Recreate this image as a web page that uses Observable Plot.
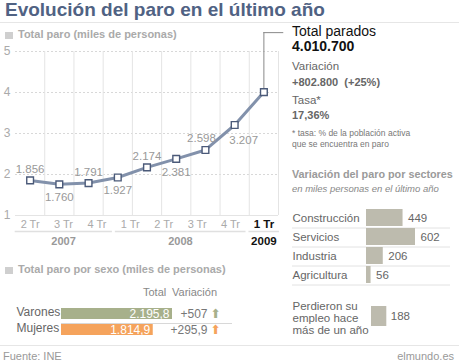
<!DOCTYPE html>
<html><head><meta charset="utf-8">
<script src="https://cdn.jsdelivr.net/npm/d3@7"></script>
<script src="https://cdn.jsdelivr.net/npm/@observablehq/plot@0.6"></script>
<style>
body{margin:0;background:#fff;font-family:"Liberation Sans",Arial,sans-serif;}
#root{position:relative;width:459px;height:364px;overflow:hidden;}
.a{position:absolute;white-space:nowrap;}
.ic{position:absolute;width:8px;height:7px;background:#cfcfcf;}
</style></head><body><div id="root">
<div class="a" style="left:5px;top:0;font-size:19px;line-height:19px;font-weight:bold;color:#506283;">Evolución del paro en el último año</div>
<div class="a" style="left:0;top:22px;width:459px;height:1px;background:#e6e6e6;"></div>
<div class="ic" style="left:5px;top:32px;"></div>
<div class="a" style="left:18px;top:28px;font-size:11px;font-weight:bold;color:#aaa;">Total paro (miles de personas)</div>
<div id="line" class="a" style="left:0;top:0;"></div>
<div class="a" style="left:292px;top:23px;font-size:14px;color:#111;">Total parados</div>
<div class="a" style="left:292px;top:38px;font-size:14px;font-weight:bold;color:#111;">4.010.700</div>
<div class="a" style="left:292px;top:60px;font-size:11.5px;color:#666;">Variación</div>
<div class="a" style="left:292px;top:76px;font-size:11px;font-weight:bold;color:#666;">+802.800&nbsp;&nbsp;(+25%)</div>
<div class="a" style="left:292px;top:94px;font-size:11.5px;color:#666;">Tasa*</div>
<div class="a" style="left:292px;top:109px;font-size:11px;font-weight:bold;color:#666;">17,36%</div>
<div class="a" style="left:292px;top:128px;font-size:8.5px;color:#777;line-height:11px;">* tasa: % de la población activa<br>que se encuentra en paro</div>
<div class="a" style="left:292px;top:168px;font-size:10.8px;font-weight:bold;color:#9a9a9a;">Variación del paro por sectores</div>
<div class="a" style="left:292px;top:183px;font-size:9.5px;font-style:italic;color:#888;">en miles personas en el último año</div>
<div id="sect" class="a" style="left:285px;top:195px;"></div>
<div id="lost" class="a" style="left:285px;top:298px;"></div>
<div class="ic" style="left:5px;top:267px;"></div>
<div class="a" style="left:18px;top:263px;font-size:11px;font-weight:bold;color:#aaa;">Total paro por sexo (miles de personas)</div>
<div class="a" style="left:143px;top:286px;font-size:11px;color:#888;">Total</div>
<div class="a" style="left:172px;top:286px;font-size:11px;color:#888;">Variación</div>
<div id="sex" class="a" style="left:0;top:285px;"></div>
<div class="a" style="left:0;top:345px;width:459px;height:1px;background:#e6e6e6;"></div>
<div class="a" style="left:3px;top:350px;font-size:11px;color:#999;">Fuente: INE</div>
<div class="a" style="right:5px;top:350px;font-size:11px;color:#999;">elmundo.es</div>
</div>
<script>
// ---- data ----
const values = [1.856, 1.760, 1.791, 1.927, 2.174, 2.381, 2.598, 3.207, 4.010];
const valueLabels = ["1.856","1.760","1.791","1.927","2.174","2.381","2.598","3.207",""];
const quarterLabels = ["2 Tr","3 Tr","4 Tr","1 Tr","2 Tr","3 Tr","4 Tr","1 Tr"];
const quarterYears = [2007,2007,2007,2008,2008,2008,2008,2009];
const years = [2007, 2008, 2009];
const sectors = ["Construcción","Servicios","Industria","Agricultura"];
const sectorValues = [449, 602, 206, 56];
const lostLabel = "Perdieron su\nempleo hace\nmás de un año";
const lostValue = 188;
const sexes = ["Varones","Mujeres"];
const sexTotals = [2195.8, 1814.9];
const sexTotalLabels = ["2.195,8","1.814,9"];
const sexVariation = ["+507","+295,9"];
const sexColors = ["#a7b08b","#f5a35c"];

const font = "Liberation Sans, Arial, sans-serif";

// ---- line chart ----
const n = values.length, m = quarterLabels.length;
const pts = values.map((v,i)=>({i, v, lab: valueLabels[i], above: i%2===0, steep: i>=n-3}));
const qpos = quarterLabels.map((q,j)=>({x: j*(n-1)/(m-1), q, year: quarterYears[j], last: j===m-1}));
const half = (n-1)/(m-1)/2;
const yearSpans = years.map(y=>{
  const xs = qpos.filter(d=>d.year===y).map(d=>d.x);
  return {year:y, x1: d3.min(xs)-half+0.06, x2: d3.max(xs)+half-0.04, xc:(d3.min(xs)+d3.max(xs))/2, last: y===2009};
});
const last = pts[n-1];
const lineChart = Plot.plot({
  width: 285, height: 250, marginLeft: 15, marginRight: 7, marginTop: 51, marginBottom: 35,
  style: {fontFamily: font, background: "transparent", overflow: "visible"},
  x: {type: "linear", domain: [-0.5, n-0.5], axis: null},
  y: {domain: [1,5], axis: null},
  marks: [
    Plot.ruleY([2,3,4,5], {stroke: "#d8d8d8", strokeDasharray: "2,2"}),
    Plot.ruleX(d3.range(n), {x: d=>d+0.5, y1: 1, y2: 5, stroke: "#e4e4e4"}),
    Plot.ruleY([1], {stroke: "#e4e4e4"}),
    Plot.text([1,2,3,4,5], {x: -0.5, y: d=>d, text: d=>String(d), textAnchor: "end", dx: -5, fontSize: 12, fill: "#aaa"}),
    Plot.ruleX([last], {x: "i", y1: "v", y2: 5.46, stroke: "#888"}),
    Plot.ruleY([last], {y: 5.46, x1: "i", x2: d=>d.i+0.68, stroke: "#888"}),
    Plot.line(pts, {x: "i", y: "v", stroke: "#8291ab", strokeWidth: 3}),
    Plot.dot(pts, {x: "i", y: "v", symbol: "square", r: 3.8, fill: "white", stroke: "#4b5a79", strokeWidth: 1.4}),
    Plot.text(pts.filter(d=>d.above && !d.steep), {x: "i", y: "v", text: "lab", dy: -11, fontSize: 11.5, fill: "#999"}),
    Plot.text(pts.filter(d=>d.above && d.steep), {x: "i", y: "v", text: "lab", dy: -12, dx: -4, fontSize: 11.5, fill: "#999"}),
    Plot.text(pts.filter(d=>!d.above && !d.steep), {x: "i", y: "v", text: "lab", dy: 13, fontSize: 11.5, fill: "#999"}),
    Plot.text(pts.filter(d=>!d.above && d.steep), {x: "i", y: "v", text: "lab", dy: 15, dx: 9, fontSize: 11.5, fill: "#999"}),
    Plot.text(qpos.filter(d=>!d.last), {x: "x", y: 1, text: "q", dy: 9, fontSize: 11, fill: "#aaa"}),
    Plot.text(qpos.filter(d=>d.last), {x: "x", y: 1, text: "q", dy: 9, fontSize: 11.5, fontWeight: "bold", fill: "#111"}),
    Plot.ruleY(yearSpans, {y: 1, x1: "x1", x2: "x2", dy: 16, stroke: "#e0e0e0", strokeWidth: 1.5}),
    Plot.text(yearSpans.filter(d=>!d.last), {x: "xc", y: 1, text: d=>String(d.year), dy: 26, fontSize: 11, fontWeight: "bold", fill: "#999"}),
    Plot.text(yearSpans.filter(d=>d.last), {x: "xc", y: 1, text: d=>String(d.year), dy: 26, fontSize: 11.5, fontWeight: "bold", fill: "#111"})
  ]
});
document.getElementById("line").append(lineChart);

// ---- sectors ----
const sectData = sectors.map((s,i)=>({s, v: sectorValues[i]}));
const sectChart = Plot.plot({
  width: 174, height: 91, marginLeft: 81, marginRight: 44, marginTop: 11, marginBottom: 0,
  style: {fontFamily: font, background: "transparent", overflow: "visible"},
  x: {domain: [0, 602], axis: null},
  y: {domain: sectors, axis: null, padding: 0.13},
  marks: [
    Plot.ruleY(sectData, {y: "s", dy: 10, stroke: "#e2e2e2", insetLeft: -74, insetRight: -35}),
    Plot.barX(sectData, {y: "s", x: "v", fill: "#bdbbae"}),
    Plot.text(sectData, {y: "s", x: "v", text: d=>String(d.v), textAnchor: "start", dx: 5, fontSize: 11.5, fill: "#666"}),
    Plot.text(sectData, {y: "s", frameAnchor: "left", text: "s", textAnchor: "start", dx: -74, fontSize: 11.5, fill: "#666"})
  ]
});
document.getElementById("sect").append(sectChart);

const lostChart = Plot.plot({
  width: 174, height: 40, marginLeft: 86, marginRight: 39, marginTop: 8, marginBottom: 12,
  style: {fontFamily: font, background: "transparent", overflow: "visible"},
  x: {domain: [0, 602], range: [86, 135], axis: null},
  y: {domain: ["lost"], axis: null, padding: 0},
  marks: [
    Plot.barX([lostValue], {y: ()=>"lost", x: d=>d, fill: "#bdbbae"}),
    Plot.text([lostValue], {y: ()=>"lost", x: d=>d, text: d=>String(d), textAnchor: "start", dx: 4, fontSize: 11.5, fill: "#666"}),
    Plot.text([lostLabel], {y: ()=>"lost", frameAnchor: "left", text: d=>d, textAnchor: "start", dx: -79, dy: 2, fontSize: 11.5, lineHeight: 1.05, fill: "#666"})
  ]
});
document.getElementById("lost").append(lostChart);

// ---- by sex ----
const sexData = sexes.map((s,i)=>({s, v: sexTotals[i], lab: sexTotalLabels[i], varr: sexVariation[i], c: sexColors[i]}));
const sexChart = Plot.plot({
  width: 240, height: 55, marginLeft: 61, marginRight: 68, marginTop: 17, marginBottom: 0,
  style: {fontFamily: font, background: "transparent", overflow: "visible"},
  x: {domain: [0, 2195.8], axis: null},
  y: {domain: sexes, axis: null, padding: 0.32},
  color: {type: "identity"},
  marks: [
    Plot.ruleY(sexData.slice(0,1), {y: "s", dy: 9.5, stroke: "#d8d8d8", insetRight: -60}),
    Plot.barX(sexData, {y: "s", x: "v", fill: "c"}),
    Plot.text(sexData, {y: "s", x: "v", text: "lab", textAnchor: "end", dx: -3, fontSize: 12, fill: "white"}),
    Plot.text(sexData, {y: "s", frameAnchor: "left", text: "s", textAnchor: "start", dx: -45, dy: -2, fontSize: 12, fill: "#666"}),
    Plot.text(sexData, {y: "s", frameAnchor: "right", text: "varr", textAnchor: "end", dx: 35, fontSize: 12, fill: "#777"}),
    Plot.text(sexData, {y: "s", frameAnchor: "right", text: ()=>"⬆", textAnchor: "middle", dx: 43, fontSize: 12.5, fontFamily: "DejaVu Sans", fill: "c"})
  ]
});
document.getElementById("sex").append(sexChart);
</script></body></html>
